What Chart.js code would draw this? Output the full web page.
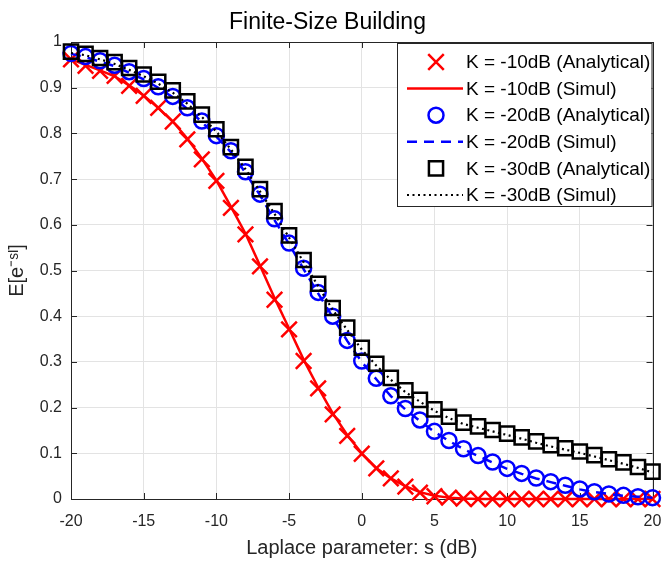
<!DOCTYPE html>
<html>
<head>
<meta charset="utf-8">
<script src="https://cdn.jsdelivr.net/npm/chart.js@4.4.0/dist/chart.umd.min.js"></script>
<style>
  html, body { margin: 0; padding: 0; background: #fff; }
  #wrap { width: 666px; height: 563px; }
</style>
</head>
<body>
<div id="wrap"><canvas id="myChart" width="666" height="563"></canvas></div>
<script>
// Laplace parameter s (dB)
const sValues = [-20, -19, -18, -17, -16, -15, -14, -13, -12, -11, -10, -9, -8, -7, -6, -5, -4, -3, -2, -1,
  0, 1, 2, 3, 4, 5, 6, 7, 8, 9, 10, 11, 12, 13, 14, 15, 16, 17, 18, 19, 20]

// E[e^{-sI}]
const k10Analytical = [0.962, 0.948, 0.937, 0.926, 0.904, 0.882, 0.856, 0.826, 0.787, 0.743, 0.696, 0.637, 0.579, 0.509,
  0.436, 0.371, 0.302, 0.242, 0.185, 0.138, 0.099, 0.067, 0.045, 0.027, 0.014, 0.006, 0.003, 0.001, 0, 0, 0, 0, 0, 0, 0, 0, 0, 0, 0, 0, 0]
const k10Simul = [0.962, 0.950, 0.938, 0.925, 0.905, 0.883, 0.856, 0.826, 0.789, 0.745, 0.697, 0.640, 0.581, 0.511,
  0.440, 0.373, 0.305, 0.244, 0.188, 0.140, 0.100, 0.068, 0.045, 0.028, 0.015, 0.007, 0.003, 0.001, 0, 0, 0, 0, 0, 0, 0, 0, 0, 0, 0, 0, 0]
const k20Analytical = [0.975, 0.968, 0.959, 0.949, 0.935, 0.920, 0.902, 0.881, 0.856, 0.827, 0.795, 0.762, 0.716, 0.667,
  0.613, 0.560, 0.505, 0.452, 0.400, 0.347, 0.302, 0.264, 0.226, 0.198, 0.173, 0.148, 0.128, 0.110, 0.095, 0.081, 0.067,
  0.056, 0.046, 0.038, 0.030, 0.022, 0.016, 0.011, 0.008, 0.005, 0.003]
const k20Simul = [0.974, 0.967, 0.957, 0.947, 0.933, 0.918, 0.900, 0.879, 0.854, 0.825, 0.793, 0.759, 0.714, 0.665,
  0.610, 0.558, 0.503, 0.450, 0.398, 0.346, 0.300, 0.262, 0.225, 0.196, 0.171, 0.147, 0.127, 0.109, 0.094, 0.080, 0.066,
  0.055, 0.045, 0.037, 0.029, 0.021, 0.015, 0.011, 0.007, 0.005, 0.003]
const k30Analytical = [0.979, 0.974, 0.965, 0.956, 0.943, 0.929, 0.913, 0.894, 0.870, 0.841, 0.809, 0.770, 0.727, 0.678,
  0.630, 0.577, 0.523, 0.471, 0.418, 0.375, 0.331, 0.296, 0.265, 0.238, 0.217, 0.196, 0.180, 0.167, 0.159, 0.151, 0.143,
  0.135, 0.126, 0.118, 0.111, 0.104, 0.096, 0.087, 0.080, 0.070, 0.060]
const k30Simul = [0.976, 0.971, 0.962, 0.952, 0.939, 0.925, 0.909, 0.889, 0.865, 0.836, 0.804, 0.765, 0.722, 0.673,
  0.624, 0.572, 0.518, 0.466, 0.414, 0.370, 0.327, 0.292, 0.261, 0.234, 0.213, 0.193, 0.177, 0.164, 0.156, 0.148, 0.140,
  0.132, 0.123, 0.115, 0.108, 0.101, 0.093, 0.085, 0.077, 0.068, 0.058]

const legendLabels = [
  'K = -10dB (Analytical)',
  'K = -10dB (Simul)',
  'K = -20dB (Analytical)',
  'K = -20dB (Simul)',
  'K = -30dB (Analytical)',
  'K = -30dB (Simul)',
]

const FONT = '"Liberation Sans", Arial, Helvetica, sans-serif'
const AXIS = '#262626'

function series(vals) {
  return sValues.map((s, i) => ({ x: s, y: vals[i] }))
}

// axes box with inward ticks, like matlab
const framePlugin = {
  id: 'frame',
  beforeDatasetsDraw(chart) {
    const { ctx, chartArea: a, scales } = chart
    ctx.save()
    ctx.strokeStyle = AXIS
    ctx.lineWidth = 1
    ctx.beginPath()
    scales.x.ticks.forEach((t) => {
      const px = Math.round(scales.x.getPixelForValue(t.value)) + 0.5
      ctx.moveTo(px, a.bottom); ctx.lineTo(px, a.bottom - 6)
      ctx.moveTo(px, a.top); ctx.lineTo(px, a.top + 6)
    })
    scales.y.ticks.forEach((t) => {
      const py = Math.round(scales.y.getPixelForValue(t.value)) + 0.5
      ctx.moveTo(a.left, py); ctx.lineTo(a.left + 6, py)
      ctx.moveTo(a.right, py); ctx.lineTo(a.right - 6, py)
    })
    ctx.stroke()
    ctx.strokeRect(Math.round(a.left) + 0.5, Math.round(a.top) + 0.5, Math.round(a.width), Math.round(a.height))
    ctx.restore()
  },
}

// legend box inside the axes, top right
const boxLegend = {
  id: 'boxLegend',
  afterDraw(chart) {
    const ctx = chart.ctx
    const a = chart.chartArea
    const left = 397, top = Math.round(a.top) + 1.5, right = Math.round(a.right) - 1.5, bottom = 206.5
    ctx.save()
    ctx.fillStyle = '#fff'
    ctx.fillRect(left, top, right - left, bottom - top)
    ctx.strokeStyle = AXIS
    ctx.lineWidth = 1
    ctx.strokeRect(left + 0.5, top, right - left, bottom - top)
    chart.data.datasets.forEach((ds, i) => {
      const y = 62 + i * 26.6
      ctx.strokeStyle = ds.borderColor
      if (ds.showLine === false) {
        ctx.lineWidth = ds.pointBorderWidth
        ctx.setLineDash([])
        const cx = 436
        ctx.beginPath()
        if (ds.pointStyle === 'crossRot') {
          const d = ds.pointRadius * Math.SQRT1_2
          ctx.moveTo(cx - d, y - d); ctx.lineTo(cx + d, y + d)
          ctx.moveTo(cx + d, y - d); ctx.lineTo(cx - d, y + d)
        } else if (ds.pointStyle === 'circle') {
          ctx.arc(cx, y, ds.pointRadius, 0, Math.PI * 2)
        } else {
          const d = ds.pointRadius * Math.SQRT1_2
          ctx.rect(cx - d, y - d, 2 * d, 2 * d)
        }
        ctx.stroke()
      } else {
        ctx.lineWidth = ds.borderWidth
        ctx.setLineDash(ds.borderDash || [])
        ctx.beginPath()
        ctx.moveTo(407, y); ctx.lineTo(463, y)
        ctx.stroke()
      }
      ctx.setLineDash([])
      ctx.fillStyle = '#000'
      ctx.font = '19px ' + FONT
      ctx.textBaseline = 'middle'
      ctx.textAlign = 'left'
      ctx.fillText(legendLabels[i], 466, y + 1)
    })
    ctx.restore()
  },
}

const ctx = document.getElementById('myChart').getContext('2d')
const myChart = new Chart(ctx, {
  type: 'line',
  data: {
    datasets: [
      {
        label: legendLabels[0], data: series(k10Analytical), showLine: false,
        pointStyle: 'crossRot', pointRadius: 11, pointBorderWidth: 2.5,
        borderColor: '#ff0000', backgroundColor: 'rgba(0,0,0,0)', order: 6,
      },
      {
        label: legendLabels[1], data: series(k10Simul), pointRadius: 0,
        borderColor: '#ff0000', borderWidth: 2.5, order: 5,
      },
      {
        label: legendLabels[2], data: series(k20Analytical), showLine: false,
        pointStyle: 'circle', pointRadius: 7.5, pointBorderWidth: 2.5,
        borderColor: '#0000ff', backgroundColor: 'rgba(0,0,0,0)', order: 4,
      },
      {
        label: legendLabels[3], data: series(k20Simul), pointRadius: 0,
        borderColor: '#0000ff', borderWidth: 2.5, borderDash: [10, 7], order: 3,
      },
      {
        label: legendLabels[4], data: series(k30Analytical), showLine: false,
        pointStyle: 'rect', pointRadius: 10, pointBorderWidth: 2.5,
        borderColor: '#000000', backgroundColor: 'rgba(0,0,0,0)', order: 2,
      },
      {
        label: legendLabels[5], data: series(k30Simul), pointRadius: 0,
        borderColor: '#000000', borderWidth: 2.2, borderDash: [2, 3.5], order: 1,
      },
    ],
  },
  options: {
    responsive: false,
    animation: false,
    devicePixelRatio: 1,
    events: [],
    clip: false,
    layout: { padding: { left: 0, right: 11, top: 0, bottom: 0 } },
    elements: { line: { tension: 0 } },
    plugins: {
      legend: { display: false },
      tooltip: { enabled: false },
      title: {
        display: true,
        text: 'Finite-Size Building',
        color: '#000',
        font: { family: FONT, size: 23, weight: 'normal', lineHeight: 1.2 },
        padding: { top: 9, bottom: 5.4 },
      },
    },
    scales: {
      x: {
        type: 'linear',
        min: -20,
        max: 20,
        afterFit: (s) => { s.height = 64; s.paddingLeft = 0; s.paddingRight = 0 },
        ticks: {
          stepSize: 5,
          color: AXIS,
          padding: 13,
          font: { family: FONT, size: 16 },
        },
        grid: { color: '#e3e3e3', drawTicks: false },
        border: { display: false },
        title: {
          display: true,
          text: 'Laplace parameter: s (dB)',
          color: AXIS,
          font: { family: FONT, size: 20 },
          padding: { top: 0, bottom: 3 },
        },
      },
      y: {
        min: 0,
        max: 1,
        afterFit: (s) => { s.width = 71; s.paddingTop = 0; s.paddingBottom = 0 },
        ticks: {
          stepSize: 0.1,
          color: AXIS,
          padding: 9,
          font: { family: FONT, size: 16 },
          callback: (v) => String(Math.round(v * 10) / 10),
        },
        grid: { color: '#e3e3e3', drawTicks: false },
        border: { display: false },
        title: {
          display: true,
          text: 'E[e⁻ˢᴵ]',
          color: AXIS,
          font: { family: FONT, size: 20 },
          padding: { top: 5, bottom: 0 },
        },
      },
    },
  },
  plugins: [framePlugin, boxLegend],
})
</script>
</body>
</html>
